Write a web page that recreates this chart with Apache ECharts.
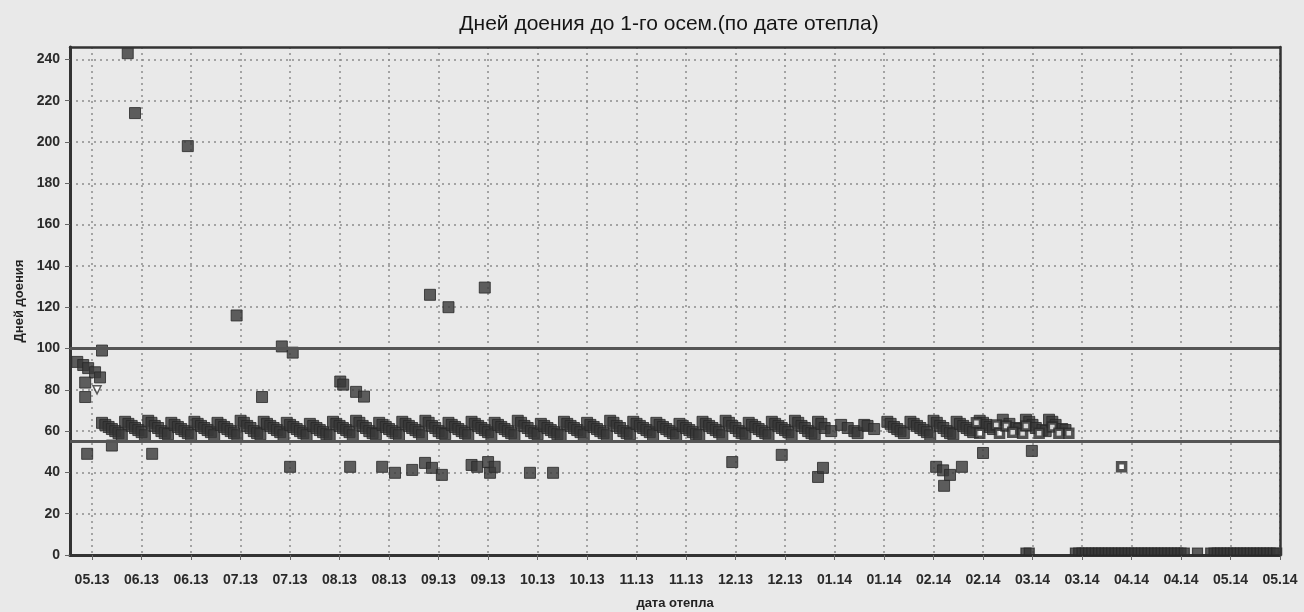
<!DOCTYPE html>
<html><head><meta charset="utf-8">
<script src="https://cdn.jsdelivr.net/npm/echarts@6/dist/echarts.min.js"></script>
<style>html,body{margin:0;padding:0;background:#e9e9e9}#c{width:1304px;height:612px}</style>
</head><body><div id="c"></div>
<script>
// x = days from 25.05.2013 (first tick), y = days in milk to first insemination
const titleText = 'Дней доения до 1-го осем.(по дате отепла)';
const xName = 'дата отепла';
const yName = 'Дней доения';
const xTickLabels = ['05.13','06.13','06.13','07.13','07.13','08.13','08.13','09.13','09.13','10.13','10.13','11.13','11.13','12.13','12.13','01.14','01.14','02.14','02.14','03.14','03.14','04.14','04.14','05.14','05.14'];
const xTickDays = [0,15,30,45,60,75,90,105,120,135,150,165,180,195,210,225,240,255,270,285,300,315,330,345,360];
const yTickValues = [0,20,40,60,80,100,120,140,160,180,200,220,240];
const thresholdLines = [100, 55];

const bandFilled = [
[3,64],[4,63],[5,62],[6,61],[7,60],[8,59],[9,58],
[10,64.5],[11,63.5],[12,62.5],[13,61.5],[14,60.5],[15,59.5],[16,58],
[17,65],[18,64],[19,62.5],[20,61.5],[21,60],[22,59],[23,58.5],
[24,64],[25,63],[26,62],[27,61],[28,60],[29,59],[30,58],
[31,64.5],[32,63.5],[33,62.5],[34,61.5],[35,60.5],[36,59.5],[37,58],
[38,64],[39,63],[40,62],[41,61],[42,60],[43,59],[44,58],
[45,65],[46,64],[47,62.5],[48,61.5],[49,60],[50,59],[51,58.5],
[52,64.5],[53,63.5],[54,62.5],[55,61.5],[56,60.5],[57,59.5],[58,58],
[59,64],[60,63],[61,62],[62,61],[63,60],[64,59],[65,58],
[66,63.5],[67,62.5],[68,61.5],[69,60.5],[70,59.5],[71,58.5],[72,58],
[73,64.5],[74,63.5],[75,62.5],[76,61.5],[77,60.5],[78,59.5],[79,58],
[80,65],[81,64],[82,62.5],[83,61.5],[84,60],[85,59],[86,58.5],
[87,64],[88,63],[89,62],[90,61],[91,60],[92,59],[93,58],
[94,64.5],[95,63.5],[96,62.5],[97,61.5],[98,60.5],[99,59.5],[100,58],
[101,65],[102,64],[103,62.5],[104,61.5],[105,60],[106,59],[107,58.5],
[108,64],[109,63],[110,62],[111,61],[112,60],[113,59],[114,58],
[115,64.5],[116,63.5],[117,62.5],[118,61.5],[119,60.5],[120,59.5],[121,58],
[122,64],[123,63],[124,62],[125,61],[126,60],[127,59],[128,58],
[129,65],[130,64],[131,62.5],[132,61.5],[133,60],[134,59],[135,58.5],
[136,63.5],[137,62.5],[138,61.5],[139,60.5],[140,59.5],[141,58.5],[142,58],
[143,64.5],[144,63.5],[145,62.5],[146,61.5],[147,60.5],[148,59.5],[149,58],
[150,64],[151,63],[152,62],[153,61],[154,60],[155,59],[156,58],
[157,65],[158,64],[159,62.5],[160,61.5],[161,60],[162,59],[163,58.5],
[164,64.5],[165,63.5],[166,62.5],[167,61.5],[168,60.5],[169,59.5],[170,58],
[171,64],[172,63],[173,62],[174,61],[175,60],[176,59],[177,58],
[178,63.5],[179,62.5],[180,61.5],[181,60.5],[182,59.5],[183,58.5],[184,58],
[185,64.5],[186,63.5],[187,62.5],[188,61.5],[189,60.5],[190,59.5],[191,58],
[192,65],[193,64],[194,62.5],[195,61.5],[196,60],[197,59],[198,58.5],
[199,64],[200,63],[201,62],[202,61],[203,60],[204,59],[205,58],
[206,64.5],[207,63.5],[208,62.5],[209,61.5],[210,60.5],[211,59.5],[212,58],
[213,65],[214,64],[215,62.5],[216,61.5],[217,60],[218,59],[219,58.5],
[220,64.5],[221,63.5],[222,61.5],[224,60],
[227,63],[229,61.5],[231,60],[232,59],
[234,63],[235,62.5],[237,61],
[241,64.5],[242,63.5],[243,62],[244,61],[245,60],[246,59],
[248,64.5],[249,63.5],[250,62.5],[251,61.5],[252,60.5],[253,59.5],[254,58],
[255,65],[256,64],[257,62.5],[258,61.5],[259,60],[260,59],[261,58.5],
[262,64.5],[263,63.5],[264,62.5],[265,61.5],[266,60.5],[267,59.5],
[269,65],[270,64],[271,63],[272,62],[273,61],
[276,65.5],[278,63.5],[280,61.5],[281,61],
[283,65.5],[284,64.5],[285,63],[286,61.5],[288,60.5],[289,60],
[290,65.5],[291,64.5],[292,63],[294,61],[295,60.5]
];
const bandHollow = [[268,64],[269,59],[274,63],[275,59],[277,62.5],[279,59.5],[282,59],[283,62.5],[287,59],[291,62],[293,59],[296,59],[312,42.7]];
const highOutliers = [[-4.5,93.5],[-2.7,92],[-1.2,90.5],[0.9,88.5],[2.4,86],[-2.1,83.5],[-2.1,76.5],[3,99],[10.8,243],[13,214],[29,198],[43.8,116],[51.5,76.5],[57.5,101],[60.8,98],[75.2,84],[76.1,82.5],[80,79],[82.4,76.7],[102.4,126],[108,120],[119,129.5]];
const lowOutliers = [[-1.5,49],[6,53],[18.2,49],[60,42.7],[78.2,42.7],[87.9,42.7],[91.8,39.8],[97,41.2],[100.9,44.6],[103,42.2],[106,38.8],[115,43.6],[116.7,42.7],[120,45],[120.6,39.8],[122,42.7],[132.7,39.8],[139.7,39.8],[194,45],[209,48.5],[220,37.8],[221.5,42.2],[255.8,42.7],[257.9,41],[260,38.8],[258.2,33.5],[263.6,42.7],[270,49.4],[284.8,50.4]];
const triangleMarks = [[1.5,80]];
const zeroDays = [283,284,298,299,300,301,302,303,304,305,306,307,308,309,310,311,312,313,314,315,316,317,318,319,320,321,322,323,324,325,326,327,328,329,330,331,335,339,340,341,342,343,344,345,346,347,348,349,350,351,352,353,354,355,356,357,358,359];

const FONT = '"Liberation Sans", Arial, sans-serif';
const filledStyle = {color: '#383838', borderColor: '#282828', borderWidth: 1};
const labelStyle = {fontFamily: FONT, fontSize: 14, fontWeight: 'bold', color: '#2a2a2a'};
const nameStyle = {fontFamily: FONT, fontSize: 13, fontWeight: 'bold', color: '#222'};
const chart = echarts.init(document.getElementById('c'));
chart.setOption({
  backgroundColor: '#e9e9e9',
  animation: false,
  title: {text: titleText, left: 664, top: 9, textAlign: 'center',
    textStyle: {fontFamily: FONT, fontSize: 21, fontWeight: 'normal', color: '#151515'}},
  grid: {left: 70, right: 24, top: 47, bottom: 57, show: false, containLabel: false, outerBoundsMode: 'none'},
  xAxis: [{
    type: 'value', min: -6.7, max: 360,
    name: xName, nameLocation: 'middle', nameGap: 42, nameTextStyle: nameStyle,
    axisLine: {show: true, onZero: false, lineStyle: {color: '#333', width: 3}},
    axisTick: {show: true, customValues: xTickDays, length: 5, lineStyle: {color: '#666', width: 1}},
    axisLabel: Object.assign({customValues: xTickDays, formatter: v => xTickLabels[Math.round(v / 15)] || '', margin: 18}, labelStyle),
    splitLine: {show: true, lineStyle: {type: [2, 4], color: '#8c8c8c', width: 1.5}}
  }, {
    type: 'value', min: -6.7, max: 360, position: 'top', z: 10,
    axisLine: {show: true, onZero: false, lineStyle: {color: '#333', width: 2.5}},
    axisTick: {show: false}, axisLabel: {show: false}, splitLine: {show: false}
  }],
  yAxis: [{
    type: 'value', min: 0, max: 246,
    name: yName, nameLocation: 'middle', nameGap: 42, nameTextStyle: nameStyle,
    axisLine: {show: true, onZero: false, lineStyle: {color: '#333', width: 3}},
    axisTick: {show: true, customValues: yTickValues, length: 5, lineStyle: {color: '#666', width: 1}},
    axisLabel: Object.assign({customValues: yTickValues, margin: 10}, labelStyle),
    splitLine: {show: true, lineStyle: {type: [2, 4], color: '#8c8c8c', width: 1.5}}
  }, {
    type: 'value', min: 0, max: 246, position: 'right', z: 10,
    axisLine: {show: true, onZero: false, lineStyle: {color: '#333', width: 2.5}},
    axisTick: {show: false}, axisLabel: {show: false}, splitLine: {show: false}
  }],
  series: [
    {type: 'scatter', data: [], z: 1, silent: true,
      markLine: {silent: true, symbol: 'none', label: {show: false}, animation: false,
        lineStyle: {color: '#555', width: 3, type: 'solid'},
        data: thresholdLines.map(v => ({yAxis: v}))}},
    {type: 'scatter', symbol: 'rect', symbolSize: 11, z: 2, itemStyle: filledStyle, data: bandFilled},
    {type: 'scatter', symbol: 'rect', symbolSize: 11, z: 2, itemStyle: filledStyle, data: highOutliers},
    {type: 'scatter', symbol: 'rect', symbolSize: 11, z: 2, itemStyle: filledStyle, data: lowOutliers},
    {type: 'scatter', symbol: 'rect', symbolSize: [10, 7], symbolOffset: [0, -3.5], z: 2, itemStyle: filledStyle, data: zeroDays.map(d => [d, 0])},
    {type: 'scatter', symbol: 'rect', symbolSize: 8, z: 3, itemStyle: {color: '#ffffff', borderColor: '#2b2b2b', borderWidth: 3.5}, data: bandHollow},
    {type: 'scatter', symbol: 'triangle', symbolRotate: 180, symbolSize: 8, z: 3, itemStyle: {color: '#ffffff', borderColor: '#333', borderWidth: 1.5}, data: triangleMarks}
  ]
});
</script></body></html>
